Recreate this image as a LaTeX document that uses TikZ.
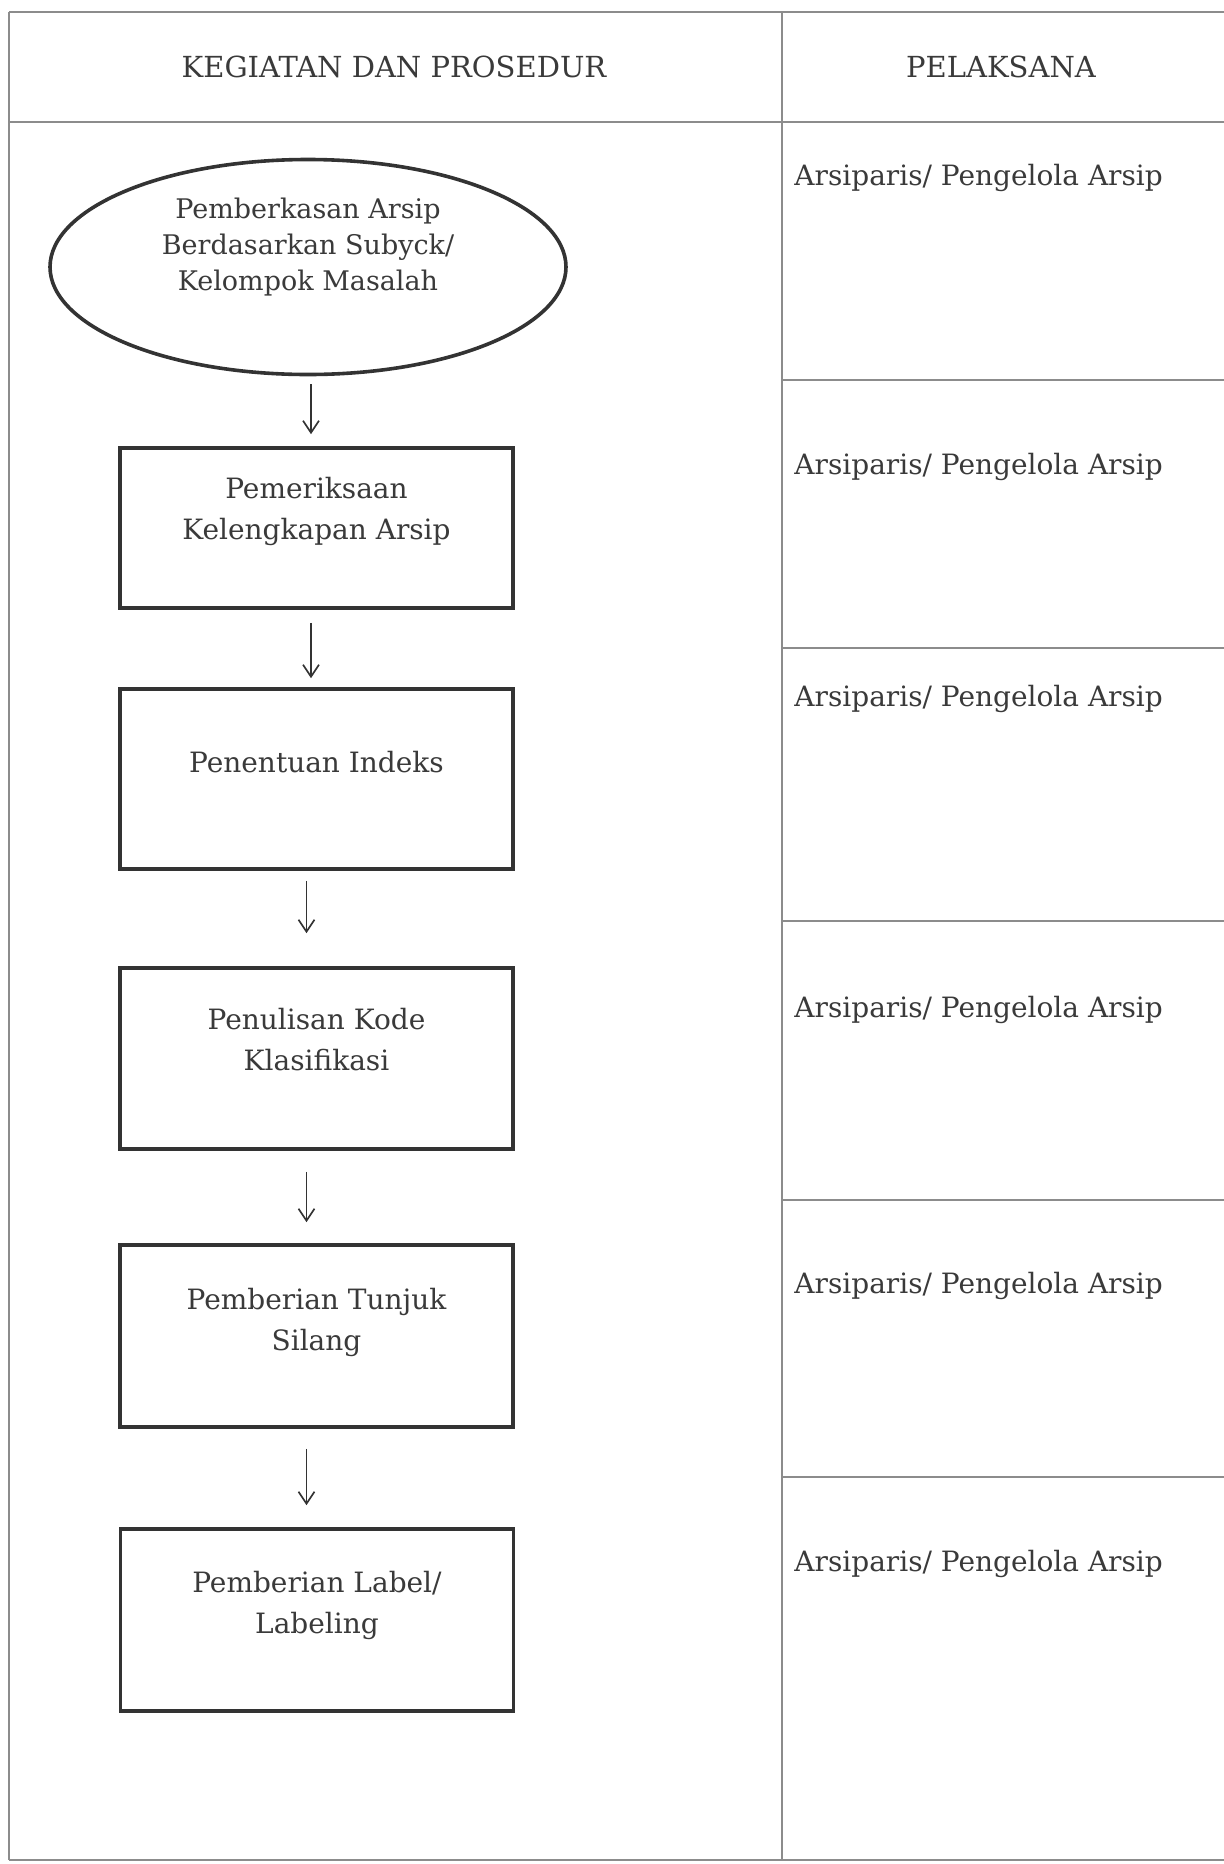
\documentclass[tikz,border=0pt]{standalone}
\usepackage{fontspec}
\setmainfont{DejaVu Serif}
\usetikzlibrary{arrows.meta,shapes.geometric}
\definecolor{ink}{HTML}{3A3A3A}
\definecolor{frame}{HTML}{333333}
\definecolor{rulegray}{HTML}{8C8C8C}
\newcommand{\uptext}[2]{\begin{tabular}{@{}c@{}}#2\\[#1]\end{tabular}}
\begin{document}
\begin{tikzpicture}[x=0.5pt,y=-0.5pt,
  tbl/.style={draw=rulegray,line width=0.6pt},
  hdr/.style={font=\fontsize{14.5}{17}\selectfont,text=ink,inner sep=0pt,anchor=base},
  who/.style={font=\fontsize{14}{17}\selectfont,text=ink,inner sep=0pt,anchor=base west},
  procbox/.style={draw=frame,line width=1.8pt,minimum width=196.5pt,inner sep=0pt,
    text=ink,font=\fontsize{14}{20.5}\selectfont},
  startnode/.style={ellipse,draw=frame,line width=1.8pt,minimum width=258pt,minimum height=107.5pt,
    inner sep=0pt,text=ink,font=\fontsize{13.5}{18}\selectfont},
  arr/.style={draw=frame,line width=0.85pt,-{Straight Barb[length=6pt,width=8pt]}}]
\useasboundingbox (0,0) rectangle (1224,1864);
\fill[white] (0,0) rectangle (1224,1864);
% table
\draw[tbl] (9,12) -- (1224,12);
\draw[tbl] (9,122) -- (1224,122);
\draw[tbl] (9,1860) -- (1224,1860);
\draw[tbl] (9,12) -- (9,1860);
\draw[tbl] (782,12) -- (782,1860);
\foreach \yy in {380,648,921,1200,1477} \draw[tbl] (782,\yy) -- (1224,\yy);
% headers
\node[hdr] (h1) at (394,77) {KEGIATAN DAN PROSEDUR};
\node[hdr] (h2) at (1001,77) {PELAKSANA};
% flow
\node[startnode] (e) at (308,267) {\uptext{20pt}{Pemberkasan Arsip\\Berdasarkan Subyck/\\Kelompok Masalah}};
\node[procbox,minimum height=80pt] (b1) at (316.5,528) {\uptext{17pt}{Pemeriksaan\\Kelengkapan Arsip}};
\node[procbox,minimum height=90pt] (b2) at (316.5,779) {\uptext{15pt}{Penentuan Indeks}};
\node[procbox,minimum height=90.5pt] (b3) at (316.5,1058.5) {\uptext{17pt}{Penulisan Kode\\Klasifikasi}};
\node[procbox,minimum height=91pt] (b4) at (316.5,1336) {\uptext{14pt}{Pemberian Tunjuk\\Silang}};
\node[procbox,minimum height=91pt] (b5) at (317,1620) {\uptext{15pt}{Pemberian Label/\\Labeling}};
\draw[arr,shorten <=4pt,shorten >=6pt] ([xshift=1.5pt]e.south) -- ([xshift=-2.75pt]b1.north);
\draw[arr,shorten <=6.5pt,shorten >=4.5pt] ([xshift=-2.75pt]b1.south) -- ([xshift=-2.75pt]b2.north);
\draw[arr,shorten <=5pt,shorten >=16.5pt] ([xshift=-5pt]b2.south) -- ([xshift=-5pt]b3.north);
\draw[arr,shorten <=10.5pt,shorten >=10.5pt] ([xshift=-5pt]b3.south) -- ([xshift=-5pt]b4.north);
\draw[arr,shorten <=10pt,shorten >=11pt] ([xshift=-5pt]b4.south) -- ([xshift=-5.25pt]b5.north);
% executors
\node[who] (p1) at (794,185) {Arsiparis/ Pengelola Arsip};
\node[who] (p2) at (794,474) {Arsiparis/ Pengelola Arsip};
\node[who] (p3) at (794,706) {Arsiparis/ Pengelola Arsip};
\node[who] (p4) at (794,1017) {Arsiparis/ Pengelola Arsip};
\node[who] (p5) at (794,1293) {Arsiparis/ Pengelola Arsip};
\node[who] (p6) at (794,1571) {Arsiparis/ Pengelola Arsip};
\end{tikzpicture}
\end{document}
